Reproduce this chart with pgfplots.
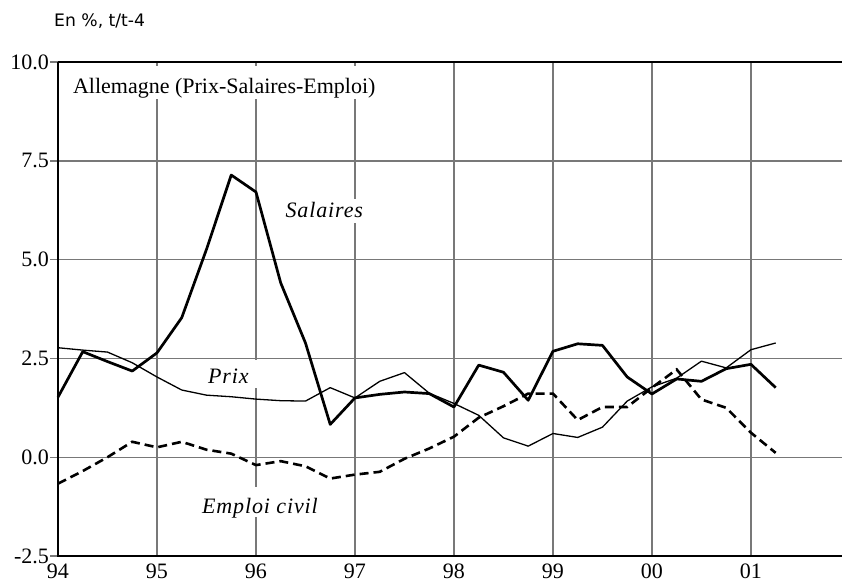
\documentclass[border=0pt]{standalone}
\usepackage{fontspec}
\setmainfont{Liberation Serif}
\newfontfamily\sansf{DejaVu Sans}
\newfontfamily\itsp[LetterSpace=4]{Liberation Serif Italic}
\usepackage{pgfplots}
\pgfplotsset{compat=1.18}
\definecolor{gridgray}{HTML}{787878}
\pgfplotstableread{
x s p e
1994.00 1.52 2.77 -0.67
1994.25 2.67 2.71 -0.35
1994.50 2.42 2.66 0.00
1994.75 2.18 2.39 0.39
1995.00 2.64 2.03 0.25
1995.25 3.53 1.70 0.39
1995.50 5.26 1.57 0.19
1995.75 7.14 1.53 0.09
1996.00 6.71 1.47 -0.20
1996.25 4.41 1.43 -0.10
1996.50 2.89 1.42 -0.23
1996.75 0.83 1.76 -0.54
1997.00 1.50 1.50 -0.44
1997.25 1.59 1.92 -0.37
1997.50 1.65 2.14 -0.04
1997.75 1.61 1.62 0.22
1998.00 1.27 1.36 0.52
1998.25 2.33 1.06 1.00
1998.50 2.15 0.49 1.29
1998.75 1.44 0.28 1.61
1999.00 2.68 0.60 1.61
1999.25 2.87 0.50 0.94
1999.50 2.83 0.76 1.27
1999.75 2.03 1.42 1.27
2000.00 1.60 1.78 1.76
2000.25 1.98 2.00 2.22
2000.50 1.92 2.43 1.46
2000.75 2.24 2.26 1.25
2001.00 2.35 2.72 0.62
2001.25 1.76 2.89 0.11
}\data
\begin{document}
\begin{tikzpicture}[x=1pt,y=1pt]
\path[use as bounding box] (0,0) rectangle (842,582);
\node[anchor=base west, inner sep=0pt] at (54,555.3) {\sansf\fontsize{17.2}{19}\selectfont En \%, t/t-4};
\begin{axis}[
  at={(58pt,26pt)}, anchor=south west,
  scale only axis, width=784pt, height=494pt,
  xmin=1994, xmax=2001.92, ymin=-2.5, ymax=10,
  xtick={1994,1995,...,2001}, xticklabels={94,95,96,97,98,99,00,01},
  ytick={-2.5,0,2.5,5,7.5,10}, yticklabels={-2.5,0.0,2.5,5.0,7.5,10.0},
  grid=major, major grid style={color=gridgray, line width=1.4pt},
  axis line style={draw=none},
  xtick pos=bottom, ytick pos=left,
  xtick style={draw=none},
  ytick style={color=gridgray, line width=1.4pt},
  tick align=outside, major tick length=8pt,
  ticklabel style={font=\fontsize{22}{24}\selectfont},
  yticklabel style={anchor=east, xshift=2.5pt},
  xticklabel style={anchor=north, inner sep=0pt, yshift=0.5pt},
  clip=false,
]
\node[anchor=base west, fill=white, inner xsep=8pt, inner ysep=0pt, text height=28pt, text depth=5pt, xshift=-8pt] at (axis cs:1994.15,9.20) {\fontsize{22}{24}\selectfont Allemagne (Prix-Salaires-Emploi)};
\node[anchor=base, fill=white, inner xsep=9pt, inner ysep=0pt, text height=19pt, text depth=5pt] at (axis cs:1996.69,6.06) {\itsp\fontsize{22}{24}\selectfont Salaires};
\node[anchor=base, fill=white, inner xsep=9pt, inner ysep=0pt, text height=24pt, text depth=4pt] at (axis cs:1995.72,1.86) {\itsp\fontsize{22}{24}\selectfont Prix};
\node[anchor=base, fill=white, inner xsep=9pt, inner ysep=0pt, text height=26pt, text depth=4pt] at (axis cs:1996.04,-1.42) {\itsp\fontsize{22}{24}\selectfont Emploi civil};
\addplot[black, line width=2.7pt, line join=round] table[x=x, y=s] {\data};
\addplot[black, line width=1.3pt, line join=round] table[x=x, y=p] {\data};
\addplot[black, line width=2.6pt, dash pattern=on 9pt off 5pt] table[x=x, y=e] {\data};
\draw[black, line width=2.6pt] (rel axis cs:0,1) -- (rel axis cs:0,0) -- (rel axis cs:1,0);
\draw[black, line width=2.2pt] (rel axis cs:0,1) -- (rel axis cs:1,1);
\end{axis}
\end{tikzpicture}
\end{document}
